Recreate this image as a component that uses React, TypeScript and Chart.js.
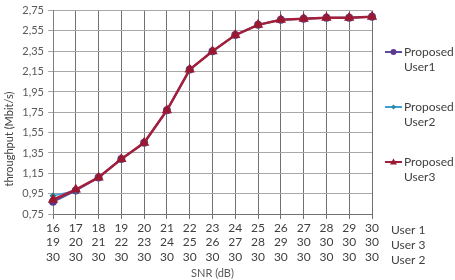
import React, { useEffect, useRef } from "react";
import { Chart, registerables } from "chart.js";

Chart.register(...registerables);

const snrUser1 = ["16","17","18","19","20","21","22","23","24","25","26","27","28","29","30"];
const snrUser3 = ["19","20","21","22","23","24","25","26","27","28","29","30","30","30","30"];
const snrUser2 = ["30","30","30","30","30","30","30","30","30","30","30","30","30","30","30"];
const rowNames = ["User 1", "User 3", "User 2"];

const user1 = [0.87, 0.98, 1.11, 1.29, 1.45, 1.77, 2.17, 2.35, 2.51, 2.61, 2.66, 2.67, 2.68, 2.68, 2.69];
const user2 = [0.93, 0.98, 1.11, 1.29, 1.45, 1.77, 2.17, 2.35, 2.51, 2.61, 2.66, 2.67, 2.68, 2.68, 2.69];
const user3 = [0.89, 0.99, 1.11, 1.29, 1.45, 1.77, 2.17, 2.35, 2.51, 2.61, 2.66, 2.67, 2.68, 2.68, 2.69];
const yTicks = [0.75, 0.95, 1.15, 1.35, 1.55, 1.75, 1.95, 2.15, 2.35, 2.55, 2.75];

const seriesNames = [["Proposed", "User1"], ["Proposed", "User2"], ["Proposed", "User3"]];
const FONT = "Lato, 'Open Sans', sans-serif";

const extrasPlugin = {
  id: "extras",
  afterDraw(chart: any) {
    const ctx = chart.ctx;
    const area = chart.chartArea;
    ctx.save();
    ctx.fillStyle = "#404040";
    ctx.font = `11px ${FONT}`;
    ctx.translate(9, 139);
    ctx.rotate(-Math.PI / 2);
    ctx.textAlign = "center";
    ctx.textBaseline = "middle";
    ctx.fillText("throughput (Mbit/s)", 0, 0);
    ctx.restore();

    ctx.save();
    ctx.fillStyle = "#404040";
    ctx.font = `12px ${FONT}`;
    ctx.textAlign = "left";
    ctx.textBaseline = "middle";
    const firstY = area.bottom + 16;
    rowNames.forEach((n, i) => ctx.fillText(n, area.right + 19, firstY + i * 15));
    ctx.restore();

    ctx.save();
    const legendY = [52, 107, 162];
    const dsList = chart.data.datasets;
    dsList.forEach((ds: any, i: number) => {
      const y = legendY[i];
      const x0 = area.right + 13;
      const x1 = area.right + 30;
      ctx.strokeStyle = ds.borderColor;
      ctx.lineWidth = 2;
      ctx.beginPath();
      ctx.moveTo(x0, y);
      ctx.lineTo(x1, y);
      ctx.stroke();
      ctx.fillStyle = ds.pointBackgroundColor;
      const cx = (x0 + x1) / 2;
      const r = ds.pointRadius;
      ctx.beginPath();
      if (ds.pointStyle === "circle") {
        ctx.arc(cx, y, r, 0, Math.PI * 2);
      } else if (ds.pointStyle === "rectRot") {
        ctx.moveTo(cx, y - r); ctx.lineTo(cx + r, y); ctx.lineTo(cx, y + r); ctx.lineTo(cx - r, y); ctx.closePath();
      } else {
        ctx.moveTo(cx, y - r); ctx.lineTo(cx + r, y + r * 0.7); ctx.lineTo(cx - r, y + r * 0.7); ctx.closePath();
      }
      ctx.fill();
      ctx.fillStyle = "#404040";
      ctx.font = `12px ${FONT}`;
      ctx.textAlign = "left";
      ctx.textBaseline = "middle";
      ctx.fillText(seriesNames[i][0], x1 + 2, y);
      ctx.fillText(seriesNames[i][1], x1 + 2, y + 15);
    });
    ctx.restore();
  },
};

export default function App() {
  const ref = useRef<HTMLCanvasElement>(null);
  useEffect(() => {
    if (!ref.current) return;
    const labels = snrUser1.map((v, i) => [v, snrUser3[i], snrUser2[i]]);
    const chart = new Chart(ref.current, {
      type: "line",
      data: {
        labels,
        datasets: [
          {
            label: "Proposed User1",
            data: user1,
            order: 3,
            borderColor: "#5b4a9e",
            backgroundColor: "#5b3a8c",
            pointBackgroundColor: "#5b3a8c",
            pointBorderColor: "#5b3a8c",
            pointStyle: "circle",
            pointRadius: 3,
            borderWidth: 2,
          },
          {
            label: "Proposed User2",
            data: user2,
            order: 2,
            borderColor: "#3aa0d8",
            backgroundColor: "#2a8a9a",
            pointBackgroundColor: "#2a8a9a",
            pointBorderColor: "#2a8a9a",
            pointStyle: "rectRot",
            pointRadius: 2.5,
            borderWidth: 1.5,
          },
          {
            label: "Proposed User3",
            data: user3,
            order: 1,
            borderColor: "#a3203c",
            backgroundColor: "#9a1830",
            pointBackgroundColor: "#9a1830",
            pointBorderColor: "#9a1830",
            pointStyle: "triangle",
            pointRadius: 3.5,
            borderWidth: 2.5,
          },
        ],
      },
      options: {
        animation: false,
        responsive: false,
        maintainAspectRatio: false,
        layout: { padding: { left: 0, right: 83, top: 0, bottom: 0 } },
        plugins: { legend: { display: false }, tooltip: { enabled: false } },
        scales: {
          x: {
            type: "category",
            offset: false,
            grid: { color: "#707070", lineWidth: 1, drawTicks: true, tickLength: 5 },
            border: { color: "#707070" },
            ticks: {
              color: "#404040",
              font: { family: FONT, size: 12 },
              maxRotation: 0,
              autoSkip: false,
              padding: 2,
            },
            title: {
              display: true,
              text: "SNR (dB)",
              color: "#595959",
              font: { family: FONT, size: 11 },
              padding: { top: 0, bottom: 0 },
            },
            afterFit: (s: any) => { s.height = 66; },
          },
          y: {
            min: 0.75,
            max: 2.75,
            grid: { color: "#a8a8a8", lineWidth: 1, drawTicks: true, tickLength: 5 },
            border: { color: "#808080" },
            afterBuildTicks: (s: any) => { s.ticks = yTicks.map((v) => ({ value: v })); },
            ticks: {
              color: "#595959",
              font: { family: FONT, size: 11 },
              padding: 4,
              callback: (v: any) => Number(v).toFixed(2).replace(".", ","),
            },
            afterFit: (s: any) => { s.width = 53; },
          },
        },
      },
      plugins: [extrasPlugin],
    } as any);
    return () => chart.destroy();
  }, []);
  return (
    <div style={{ position: "fixed", left: 0, top: 0, width: 455, height: 280, background: "#fff" }}>
      <canvas ref={ref} width={455} height={280} style={{ width: 455, height: 280 }} />
    </div>
  );
}
